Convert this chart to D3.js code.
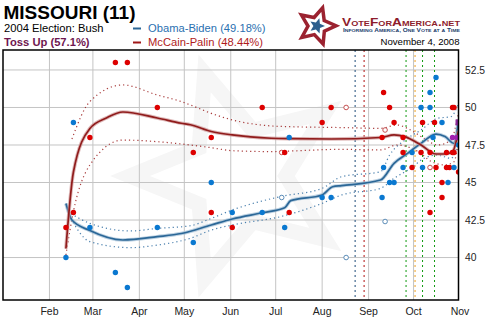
<!DOCTYPE html>
<html>
<head>
<meta charset="utf-8">
<script src="https://cdn.jsdelivr.net/npm/d3@7"></script>
<style>
body { margin: 0; background: #fff; }
svg { display: block; font-family: "Liberation Sans", Arial, sans-serif; }
</style>
</head>
<body>
<svg width="490" height="330"></svg>
<script>
//axis labels
const months = ["2008-02-01", "2008-03-01", "2008-04-01", "2008-05-01", "2008-06-01",
                "2008-07-01", "2008-08-01", "2008-09-01", "2008-10-01", "2008-11-01"];
const yTicks = [40, 42.5, 45, 47.5, 50, 52.5];

//individual polls [date, percent]
const obamaPolls = [
    ["2008-02-12", 40], ["2008-02-17", 49], ["2008-02-28", 42], ["2008-03-16", 39],
    ["2008-03-24", 38], ["2008-04-13", 42], ["2008-05-07", 41], ["2008-05-19", 45],
    ["2008-06-02", 43], ["2008-06-22", 43], ["2008-07-07", 42], ["2008-07-10", 48],
    ["2008-08-01", 44], ["2008-08-07", 44], ["2008-09-10", 44], ["2008-09-11", 46],
    ["2008-09-15", 45], ["2008-09-18", 45], ["2008-09-24", 46], ["2008-09-30", 47],
    ["2008-10-06", 50], ["2008-10-07", 46], ["2008-10-12", 50], ["2008-10-12", 51],
    ["2008-10-14", 48], ["2008-10-16", 52], ["2008-10-20", 49], ["2008-10-24", 45],
    ["2008-10-28", 46], ["2008-10-31", 47.5]
];
const obamaOpen = [["2008-07-05", 44], ["2008-08-17", 40], ["2008-09-12", 42.4]];

const mccainPolls = [
    ["2008-02-12", 42], ["2008-02-17", 43], ["2008-02-28", 48], ["2008-03-16", 53],
    ["2008-03-24", 53], ["2008-04-13", 50], ["2008-05-07", 47], ["2008-05-19", 48],
    ["2008-05-19", 43], ["2008-06-02", 42], ["2008-06-22", 50], ["2008-07-07", 47],
    ["2008-07-10", 43], ["2008-08-01", 49], ["2008-08-07", 50], ["2008-09-10", 48],
    ["2008-09-11", 51], ["2008-09-15", 50], ["2008-09-18", 49], ["2008-09-24", 48],
    ["2008-09-24", 47], ["2008-09-30", 46], ["2008-10-06", 47], ["2008-10-07", 49],
    ["2008-10-12", 47], ["2008-10-12", 43], ["2008-10-15", 49], ["2008-10-16", 46],
    ["2008-10-20", 45], ["2008-10-20", 44], ["2008-10-23", 47], ["2008-10-23", 46],
    ["2008-10-25", 46], ["2008-10-27", 47], ["2008-10-28", 47], ["2008-10-27", 50],
    ["2008-10-28", 50], ["2008-10-31", 45.7]
];
const mccainOpen = [["2008-07-05", 47], ["2008-08-17", 50], ["2008-09-12", 48.5], ["2008-10-12", 46]];

const tiedPolls = [["2008-10-27", 48], ["2008-10-30", 48]];
const finalMark = [["2008-10-31", 49]];

//trend estimates with upper/lower bounds
const obamaTrend = [
    ["2008-02-12", 43.6], ["2008-02-16", 42.5], ["2008-02-28", 41.8], ["2008-03-21", 41.17],
    ["2008-04-13", 41.39], ["2008-04-29", 41.6], ["2008-05-19", 42.17], ["2008-06-02", 42.57],
    ["2008-06-23", 43.0], ["2008-07-07", 43.32], ["2008-07-11", 43.79], ["2008-08-01", 44.17],
    ["2008-08-08", 44.72], ["2008-08-14", 44.79], ["2008-09-09", 45.17], ["2008-09-18", 46.28],
    ["2008-09-27", 46.94], ["2008-10-06", 47.61], ["2008-10-16", 48.23], ["2008-10-22", 48.06],
    ["2008-10-28", 47.61], ["2008-10-31", 49.18]
];
const obamaUpper = [
    ["2008-02-13", 43.06], ["2008-02-28", 42.28], ["2008-03-26", 41.77], ["2008-04-13", 41.94],
    ["2008-05-05", 42.12], ["2008-05-19", 42.61], ["2008-06-02", 43.17], ["2008-07-04", 44.06],
    ["2008-08-01", 44.61], ["2008-08-14", 45.39], ["2008-09-09", 45.72], ["2008-09-15", 46.83],
    ["2008-09-27", 47.94], ["2008-10-06", 48.5], ["2008-10-17", 49.28], ["2008-10-26", 49.39],
    ["2008-10-31", 50.28]
];
const obamaLower = [
    ["2008-02-14", 42.83], ["2008-02-28", 41.06], ["2008-03-26", 40.66], ["2008-04-13", 40.83],
    ["2008-05-05", 41.28], ["2008-05-19", 41.83], ["2008-06-02", 42.17], ["2008-07-04", 42.72],
    ["2008-08-01", 43.61], ["2008-08-14", 44.17], ["2008-09-09", 44.61], ["2008-09-18", 45.28],
    ["2008-09-29", 45.94], ["2008-10-08", 46.61], ["2008-10-17", 46.83], ["2008-10-26", 46.61],
    ["2008-10-31", 47.72]
];
const mccainTrend = [
    ["2008-02-12", 40.6], ["2008-02-17", 45.7], ["2008-02-28", 48.6], ["2008-03-10", 49.3],
    ["2008-03-21", 49.7], ["2008-04-13", 49.3], ["2008-04-29", 48.95], ["2008-05-05", 48.85],
    ["2008-05-19", 48.4], ["2008-06-02", 48.17], ["2008-06-28", 47.95], ["2008-07-11", 47.92],
    ["2008-08-07", 47.9], ["2008-09-09", 48.0], ["2008-09-18", 48.17], ["2008-09-25", 48.06],
    ["2008-10-06", 47.5], ["2008-10-16", 46.9], ["2008-10-22", 46.9], ["2008-10-27", 47.06],
    ["2008-10-31", 48.44]
];
const mccainUpper = [
    ["2008-02-16", 47.9], ["2008-02-28", 50.4], ["2008-03-21", 51.5], ["2008-04-13", 50.83],
    ["2008-04-29", 50.39], ["2008-05-05", 50.17], ["2008-05-19", 49.61], ["2008-06-02", 49.17],
    ["2008-06-28", 48.77], ["2008-07-11", 48.72], ["2008-08-14", 48.66], ["2008-09-09", 48.61],
    ["2008-09-20", 48.83], ["2008-09-29", 48.5], ["2008-10-08", 47.94], ["2008-10-17", 47.5],
    ["2008-10-26", 47.83], ["2008-10-31", 49.7]
];
const mccainLower = [
    ["2008-02-12", 40.17], ["2008-02-17", 43.06], ["2008-02-28", 46.17], ["2008-03-21", 47.83],
    ["2008-04-13", 47.72], ["2008-05-05", 47.5], ["2008-05-19", 47.32], ["2008-06-02", 47.12],
    ["2008-06-28", 47.06], ["2008-07-11", 47.1], ["2008-08-14", 47.21], ["2008-09-09", 47.17],
    ["2008-09-20", 47.5], ["2008-10-04", 47.06], ["2008-10-13", 46.39], ["2008-10-22", 46.17],
    ["2008-10-28", 46.39], ["2008-10-31", 47.83]
];

//campaign events (VP picks, debates)
const events = [
    ["2008-08-23", "#1d4a78"], ["2008-08-29", "#b01010"], ["2008-09-26", "#109a10"],
    ["2008-10-02", "#f0a020"], ["2008-10-07", "#109a10"], ["2008-10-15", "#109a10"]
];

const parse = d3.timeParse("%Y-%m-%d");
const plot = {left: 3, right: 458.5, top: 50, bottom: 300};

//scales
const xScale = d3.scaleTime()
    .domain([parse("2008-01-01"), parse("2008-11-01")])
    .range([3, 460]);

const yScale = d3.scaleLinear()
    .domain([37.17, 53.83])
    .range([plot.bottom, plot.top]);

const svg = d3.select("svg");

svg.append("defs").append("clipPath")
    .attr("id", "clip")
    .append("rect")
    .attr("x", plot.left)
    .attr("y", plot.top)
    .attr("width", plot.right - plot.left)
    .attr("height", plot.bottom - plot.top);

//star outline helper
function starPath(cx, cy, R, r, rot) {
    let pts = [];
    for (let i = 0; i < 10; i++) {
        let a = rot + i * Math.PI / 5;
        let rad = i % 2 == 0 ? R : r;
        pts.push([cx + rad * Math.cos(a), cy + rad * Math.sin(a)]);
    }
    return "M" + pts.map(p => p.join(",")).join("L") + "Z";
}

const chart = svg.append("g").attr("clip-path", "url(#clip)");

//faint watermark star
chart.append("path")
    .attr("d", starPath(238, 176, 108, 48, Math.PI))
    .attr("fill", "none")
    .attr("stroke", "#f6f6f6")
    .attr("stroke-width", 15)
    .attr("stroke-linejoin", "miter");

//grid
chart.append("g")
    .selectAll("line")
    .data(yTicks)
    .enter()
    .append("line")
    .attr("x1", plot.left)
    .attr("x2", plot.right)
    .attr("y1", d => yScale(d))
    .attr("y2", d => yScale(d))
    .attr("stroke", "#c4c4c4");

chart.append("g")
    .selectAll("line")
    .data(months)
    .enter()
    .append("line")
    .attr("x1", d => xScale(parse(d)))
    .attr("x2", d => xScale(parse(d)))
    .attr("y1", plot.top)
    .attr("y2", plot.bottom)
    .attr("stroke", "#c4c4c4");

//event markers
chart.append("g")
    .selectAll("line")
    .data(events)
    .enter()
    .append("line")
    .attr("x1", d => xScale(parse(d[0])))
    .attr("x2", d => xScale(parse(d[0])))
    .attr("y1", plot.top)
    .attr("y2", plot.bottom)
    .attr("stroke", d => d[1])
    .attr("stroke-width", 1)
    .attr("stroke-dasharray", "2,3");

const line = d3.line()
    .x(d => xScale(parse(d[0])))
    .y(d => yScale(d[1]))
    .curve(d3.curveMonotoneX);

//bounds
[[obamaUpper, "#2a6aa0"], [obamaLower, "#2a6aa0"], [mccainUpper, "#9a1a1a"], [mccainLower, "#9a1a1a"]]
    .forEach(([series, color]) => {
        chart.append("path")
            .attr("d", line(series))
            .attr("fill", "none")
            .attr("stroke", color)
            .attr("stroke-width", 1.2)
            .attr("stroke-dasharray", "1.2,3")
            .attr("opacity", 0.85);
    });

//trend lines
[[obamaTrend, "#2b6797", "#9fbdd6"], [mccainTrend, "#901c1c", "#d09a9a"]]
    .forEach(([series, color, halo]) => {
        chart.append("path")
            .attr("d", line(series))
            .attr("fill", "none")
            .attr("stroke", halo)
            .attr("stroke-width", 3.6)
            .attr("opacity", 0.7);
        chart.append("path")
            .attr("d", line(series))
            .attr("fill", "none")
            .attr("stroke", color)
            .attr("stroke-width", 1.7);
    });

//poll dots
function dots(series, color, open) {
    chart.append("g")
        .selectAll("circle")
        .data(series)
        .enter()
        .append("circle")
        .attr("cx", d => xScale(parse(d[0])))
        .attr("cy", d => yScale(d[1]))
        .attr("r", open ? 2.3 : 2.7)
        .attr("fill", open ? "#fff" : color)
        .attr("stroke", open ? color : "none")
        .attr("stroke-width", 0.9);
}
dots(mccainOpen, "#c04040", true);
dots(obamaOpen, "#4a80b0", true);
dots(mccainPolls, "#dd0000", false);
dots(obamaPolls, "#0a78d0", false);
dots(tiedPolls, "#a020b0", false);

chart.append("g")
    .selectAll("rect")
    .data(finalMark)
    .enter()
    .append("rect")
    .attr("x", d => xScale(parse(d[0])) - 3)
    .attr("y", d => yScale(d[1]) - 3)
    .attr("width", 6)
    .attr("height", 6)
    .attr("fill", "#8a2a9a");

//border
svg.append("rect")
    .attr("x", plot.left)
    .attr("y", plot.top)
    .attr("width", plot.right - plot.left)
    .attr("height", plot.bottom - plot.top)
    .attr("fill", "none")
    .attr("stroke", "#000")
    .attr("stroke-width", 1.5);

//axis labels
svg.append("g")
    .selectAll("text")
    .data(months)
    .enter()
    .append("text")
    .attr("x", d => xScale(parse(d)))
    .attr("y", 314.5)
    .attr("text-anchor", "middle")
    .style("font-size", "10.5px")
    .style("fill", "#222")
    .text(d => d3.timeFormat("%b")(parse(d)));

svg.append("g")
    .selectAll("text")
    .data(yTicks)
    .enter()
    .append("text")
    .attr("x", 465)
    .attr("y", d => yScale(d))
    .attr("dy", "0.36em")
    .style("font-size", "10.3px")
    .style("fill", "#222")
    .text(d => d);

//title block
svg.append("text")
    .attr("x", 3.5)
    .attr("y", 18.5)
    .style("font-size", "19px")
    .style("font-weight", "bold")
    .text("MISSOURI (11)");

svg.append("text")
    .attr("x", 4)
    .attr("y", 32)
    .style("font-size", "11.2px")
    .text("2004 Election: Bush");

svg.append("text")
    .attr("x", 4)
    .attr("y", 46)
    .style("font-size", "11.2px")
    .style("font-weight", "bold")
    .style("fill", "#6e1650")
    .text("Toss Up (57.1%)");

//legend
const legend = [["Obama-Biden (49.18%)", "#2b6797", "#2a70b0"], ["McCain-Palin (48.44%)", "#a01818", "#b01c1c"]];
legend.forEach(([label, lineColor, textColor], i) => {
    svg.append("line")
        .attr("x1", 133)
        .attr("x2", 141)
        .attr("y1", 28.5 + i * 14)
        .attr("y2", 28.5 + i * 14)
        .attr("stroke", lineColor)
        .attr("stroke-width", 2);
    svg.append("text")
        .attr("x", 148)
        .attr("y", 32 + i * 14)
        .style("font-size", "11.2px")
        .style("fill", textColor)
        .text(label);
});

//logo
svg.append("path")
    .attr("d", starPath(317, 26, 19, 9, -Math.PI / 2 + 0.3))
    .attr("fill", "#fff")
    .attr("stroke", "#9b2230")
    .attr("stroke-width", 3.5)
    .attr("stroke-linejoin", "miter");
svg.append("path")
    .attr("d", starPath(317, 26, 8, 3.6, -Math.PI / 2 + 0.3))
    .attr("fill", "#2d5f8e");

svg.append("text")
    .attr("x", 342)
    .attr("y", 25.5)
    .attr("textLength", 118)
    .attr("lengthAdjust", "spacingAndGlyphs")
    .style("font-size", "10.5px")
    .style("font-weight", "bold")
    .style("fill", "#8e1c2c")
    .style("font-variant", "small-caps")
    .text("VoteForAmerica.net");

svg.append("text")
    .attr("x", 343)
    .attr("y", 31.5)
    .attr("textLength", 117)
    .attr("lengthAdjust", "spacingAndGlyphs")
    .style("font-size", "5px")
    .style("font-weight", "bold")
    .style("fill", "#23406e")
    .style("font-variant", "small-caps")
    .text("Informing America, One Vote at a Time");

svg.append("text")
    .attr("x", 459.5)
    .attr("y", 45)
    .attr("text-anchor", "end")
    .style("font-size", "9.6px")
    .text("November 4, 2008");
</script>
</body>
</html>
